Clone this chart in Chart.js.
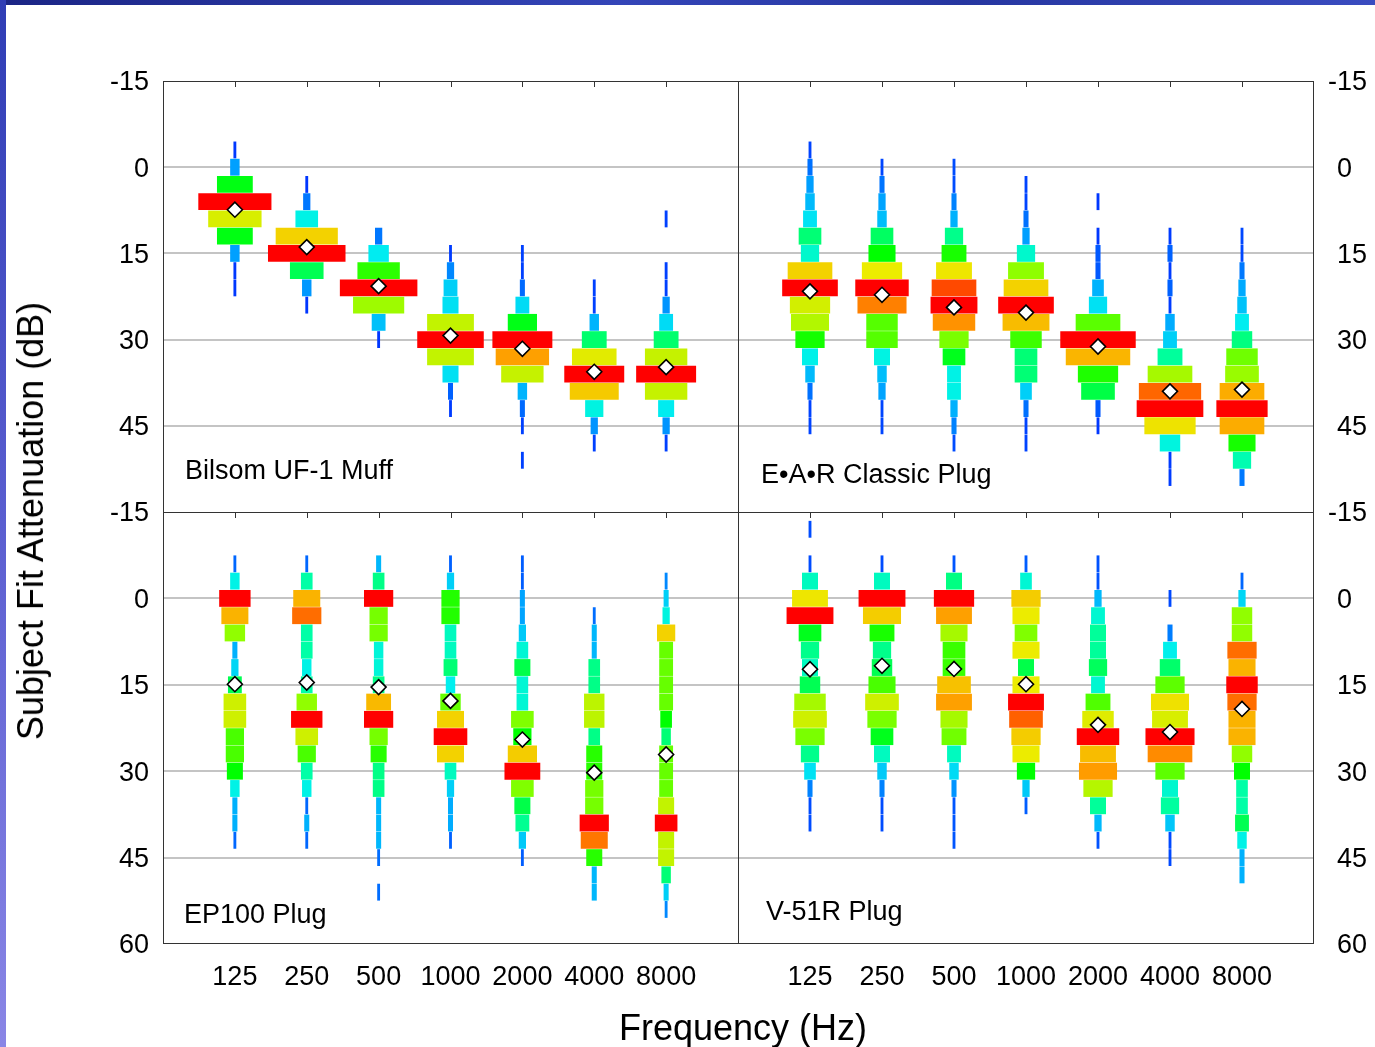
<!DOCTYPE html>
<html><head><meta charset="utf-8">
<script src="https://cdn.jsdelivr.net/npm/chart.js@4.4.1/dist/chart.umd.min.js"></script>
<style>
html,body{margin:0;padding:0;background:#fff;}
#wrap{position:relative;width:1375px;height:1047px;overflow:hidden;background:#fff;font-family:'Liberation Sans',Arial,sans-serif;}
canvas{position:absolute;left:0;top:0;}
.txt{position:absolute;color:#000;white-space:nowrap;line-height:1;}
#topbar{position:absolute;left:0;top:0;width:1375px;height:5px;background:linear-gradient(90deg,#1b2585,#3445b8 45%,#2636a0 70%,#3a4cc0);}
#leftbar{position:absolute;left:0;top:0;width:6px;height:1047px;background:linear-gradient(180deg,#2f3db5,#5a5ed0 50%,#8a86e6);}
.ln{position:absolute;background:#333;}
</style></head><body>
<div id="wrap">
<div id="topbar"></div><div id="leftbar"></div>
<canvas id="cTL" width="1375" height="1047"></canvas>
<canvas id="cTR" width="1375" height="1047"></canvas>
<canvas id="cBL" width="1375" height="1047"></canvas>
<canvas id="cBR" width="1375" height="1047"></canvas>
<div class="ln" style="left:163px;top:81px;width:1151px;height:1px"></div>
<div class="ln" style="left:163px;top:943px;width:1151px;height:1px"></div>
<div class="ln" style="left:163px;top:512px;width:1151px;height:1px"></div>
<div class="ln" style="left:163px;top:81px;width:1px;height:863px"></div>
<div class="ln" style="left:738px;top:81px;width:1px;height:863px"></div>
<div class="ln" style="left:1313px;top:81px;width:1px;height:863px"></div>
<div class="txt" style="left:185px;top:457px;font-size:27px">Bilsom UF-1 Muff</div>
<div class="txt" style="left:761px;top:461px;font-size:27px">E•A•R Classic Plug</div>
<div class="txt" style="left:184px;top:901px;font-size:27px">EP100 Plug</div>
<div class="txt" style="left:766px;top:898px;font-size:27px">V-51R Plug</div>
<div class="txt" style="left:743px;top:1010px;font-size:36px;transform:translateX(-50%)">Frequency (Hz)</div>
<div class="txt" style="left:31px;top:521px;font-size:36px;transform:translate(-50%,-50%) rotate(-90deg)">Subject Fit Attenuation (dB)</div>
</div>
<script>
// ---------- DATA ----------
const freqLabels = ['125','250','500','1000','2000','4000','8000'];
const binStep = 3; // dB per histogram bin

// Bilsom UF-1 Muff : first bin centre (dB) per frequency, subject counts per 3-dB bin, mean
const muffStart  = [-3, 3, 12, 15, 15, 21, 9];
const muffCounts = [
  [1,4,16,33,24,16,4,1,1],
  [1,3,10,28,35,15,4,1],
  [3,9,19,35,23,6,1],
  [1,3,6,7,21,30,21,7,2,1],
  [1,1,2,6,13,27,24,19,4,2,1,0,1],
  [1,1,4,11,20,27,22,8,3,1],
  [1,0,0,1,1,3,6,11,19,27,19,7,3,1]
];
const muffMeans  = [7.4, 13.9, 20.7, 29.3, 31.6, 35.6, 34.8];

// E•A•R Classic Plug
const earStart  = [-3, 0, 0, 3, 6, 12, 12];
const earCounts = [
  [1,2,3,4,6,10,8,20,25,18,17,13,7,4,2,1,1],
  [1,2,3,4,10,12,18,24,22,14,14,7,4,3,1,1],
  [1,1,2,3,8,11,16,20,21,19,13,10,6,6,3,2,1],
  [1,1,2,3,8,16,20,25,21,14,10,10,5,2,1,1],
  [1,0,1,2,2,5,8,20,34,29,18,15,2,1],
  [1,2,1,2,1,4,6,11,20,28,30,23,9,1,1],
  [1,1,2,3,4,6,9,14,15,20,23,20,12,8,2]
];
const earMeans  = [21.6, 22.2, 24.4, 25.3, 31.2, 39.0, 38.7];

// EP100 Plug
const epStart  = [-6, -6, -6, -6, -6, 3, -3];
const epCounts = [
  [1,4,14,12,9,2,3,6,10,10,8,8,7,4,2,2,1],
  [1,5,12,13,5,5,4,5,9,14,10,8,5,4,1,2,1],
  [2,5,13,8,8,4,4,5,11,13,8,7,5,5,2,2,2,1,0,1],
  [1,3,8,8,5,5,6,4,9,12,15,12,5,3,2,2,1],
  [1,1,2,2,3,5,7,5,5,10,8,13,16,10,7,6,3,1],
  [1,2,2,5,5,9,9,5,7,7,8,8,13,12,7,2,2],
  [1,2,3,8,6,6,6,6,5,4,6,6,6,7,10,7,7,4,2,1]
];
const epMeans  = [14.9, 14.6, 15.4, 17.8, 24.5, 30.25, 27.1];

// V-51R Plug
const vStart  = [-12, -6, -6, -6, -6, 0, -3];
const vCounts = [
  [1,0,1,7,16,21,10,8,7,9,14,15,13,8,5,2,1,1],
  [1,7,21,17,11,8,9,12,15,13,10,7,4,2,1,1],
  [1,7,18,16,12,10,10,15,16,12,11,6,4,2,1,1,1],
  [1,5,13,12,10,12,7,12,16,15,13,12,8,3,1],
  [1,1,3,6,7,7,8,6,11,14,19,16,17,13,7,3,1],
  [1,0,2,6,9,13,17,16,22,20,13,7,8,4,1,1],
  [1,3,9,9,13,12,14,13,12,12,9,7,5,5,6,4,2,2]
];
const vMeans  = [12.3, 11.7, 12.25, 14.9, 21.95, 23.2, 19.2];

const yTicks = [-15, 0, 15, 30, 45, 60];

// ---------- STYLE / BUILD ----------
const FONT = "'Liberation Sans', Arial, sans-serif";
const HALF_W_PER_COUNT = 1.1 / 72; // column units per subject (half width)

function heatColor(r){
  const stops=[[0,235],[0.13,200],[0.3,175],[0.5,120],[0.75,60],[0.9,36],[1,0]];
  let h=0;
  for(let i=1;i<stops.length;i++){
    if(r<=stops[i][0]){const a=stops[i-1],b=stops[i]; h=a[1]+(b[1]-a[1])*(r-a[0])/(b[0]-a[0]); break;}
  }
  const l=50-4*Math.max(0,1-Math.abs(h-62)/25)-3*Math.max(0,1-Math.abs(h-180)/20);
  return 'hsl('+h.toFixed(1)+',100%,'+l.toFixed(1)+'%)';
}

function buildBars(starts, counts){
  const data=[], colors=[];
  counts.forEach((col,i)=>{
    const mx=Math.max(...col);
    col.forEach((c,j)=>{
      if(!c) return;
      const hw=c*HALF_W_PER_COUNT;
      data.push({x:[i-hw,i+hw], y:starts[i]+binStep*j});
      colors.push(heatColor(c/mx));
    });
  });
  return {data, colors};
}

// inward tick marks along the top edge of each panel, placed by the x scale
const topTicks = {
  id:'topTicks',
  afterDraw(chart){
    const xs=chart.scales.x, a=chart.chartArea, ctx=chart.ctx;
    ctx.save(); ctx.strokeStyle='#333'; ctx.lineWidth=1;
    freqLabels.forEach((_,i)=>{
      const px=Math.round(xs.getPixelForValue(i))+0.5;
      ctx.beginPath(); ctx.moveTo(px,a.top); ctx.lineTo(px,a.top+6); ctx.stroke();
    });
    ctx.restore();
  }
};

function makeChart(id, starts, counts, means, area, yPos, showX, isTop){
  const bars=buildBars(starts, counts);
  const WL=60, WR=55, HX=60;
  const pad={top:area.t};
  if(yPos==='left'){ pad.left=area.l-WL; pad.right=1375-area.r; }
  else { pad.left=area.l; pad.right=1375-area.r-WR; }
  pad.bottom = showX ? 1047-area.b-HX : 1047-area.b;
  // right-hand labels keep digits aligned, the minus sign hanging to the left
  const fmt = v => {
    if(isTop && v===60) return '';
    const s=String(v);
    return (yPos==='right' && v>=0) ? '\u2004'+s : s;
  };
  return new Chart(document.getElementById(id), {
    type:'bar',
    plugins:[topTicks],
    data:{datasets:[
      {type:'scatter', data:means.map((m,i)=>({x:i,y:m})), pointStyle:'rectRot', pointRadius:7.5,
       pointHoverRadius:7.5, backgroundColor:'#ffffff', borderColor:'#000000', borderWidth:1.6, order:0},
      {type:'bar', indexAxis:'y', data:bars.data, backgroundColor:bars.colors, borderWidth:0,
       barThickness:16.2, grouped:false, order:1}
    ]},
    options:{
      responsive:false, animation:false, devicePixelRatio:1,
      layout:{padding:pad},
      plugins:{legend:{display:false}, tooltip:{enabled:false}},
      scales:{
        x:{type:'linear', min:-1, max:7, offset:false, display:showX,
           afterBuildTicks:s=>{s.ticks=freqLabels.map((_,i)=>({value:i}));},
           afterFit:s=>{s.height=showX?HX:0;},
           ticks:{autoSkip:false, maxRotation:0, padding:17, color:'#000', font:{family:FONT,size:27},
                  callback:v=>freqLabels[v]},
           grid:{display:false, drawTicks:false, offset:false}, border:{display:false}},
        y:{type:'linear', reverse:true, min:-15, max:60, offset:false, position:yPos,
           afterBuildTicks:s=>{s.ticks=yTicks.map(v=>({value:v}));},
           afterFit:s=>{s.width=(yPos==='left'?WL:WR);},
           ticks:{padding:14, labelOffset:2, color:'#000', font:{family:FONT,size:27},
                  callback:fmt},
           grid:{drawTicks:false, offset:false, lineWidth:2,
                 color:c=>(c.tick && c.tick.value>-15 && c.tick.value<60)?'#c4c4c4':'rgba(0,0,0,0)'},
           border:{display:false}}
      }
    }
  });
}

makeChart('cTL', muffStart, muffCounts, muffMeans, {l:163,t:81,r:738,b:512}, 'left', false, true);
makeChart('cTR', earStart, earCounts, earMeans, {l:738,t:81,r:1314,b:512}, 'right', false, true);
makeChart('cBL', epStart, epCounts, epMeans, {l:163,t:512,r:738,b:944}, 'left', true, false);
makeChart('cBR', vStart, vCounts, vMeans, {l:738,t:512,r:1314,b:944}, 'right', true, false);
</script>
</body></html>
